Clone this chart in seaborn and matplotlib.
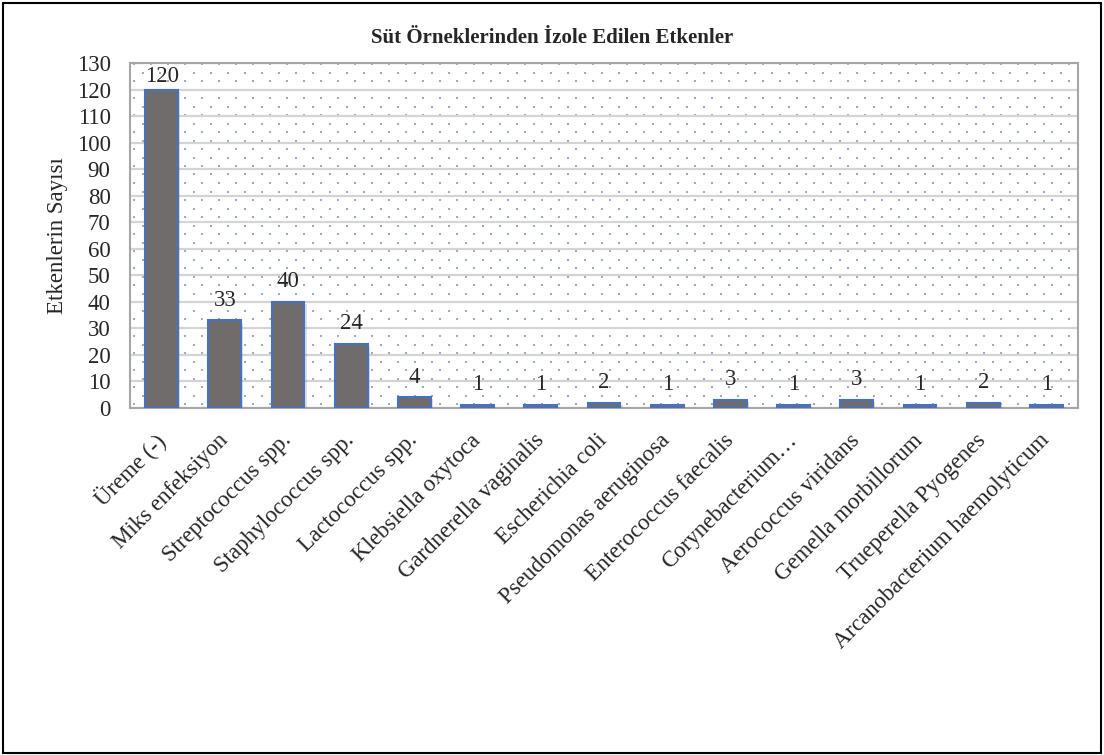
import matplotlib
matplotlib.use("Agg")
import matplotlib.pyplot as plt
import matplotlib.patheffects as pe
import seaborn as sns
import pandas as pd
import numpy as np
from matplotlib.patches import Rectangle

categories = ["Üreme (-)", "Miks enfeksiyon", "Streptococcus spp.", "Staphylococcus spp.",
              "Lactococcus spp.", "Klebsiella oxytoca", "Gardnerella vaginalis",
              "Escherichia coli", "Pseudomonas aeruginosa", "Enterococcus faecalis",
              "Corynebacterium…", "Aerococcus viridans", "Gemella morbillorum",
              "Trueperella Pyogenes", "Arcanobacterium haemolyticum"]
values = [120, 33, 40, 24, 4, 1, 1, 2, 1, 3, 1, 3, 1, 2, 1]
yticks = list(range(0, 131, 10))

sns.set_theme(style="white")
plt.rcParams['font.family'] = ['Liberation Serif', 'DejaVu Serif']

df = pd.DataFrame({"cat": categories, "val": values})

W, H = 1104, 755
L, R, T, B = 130, 1078, 63, 408
fig = plt.figure(figsize=(W/100, H/100), dpi=100)
ax = fig.add_axes([L/W, 1-B/H, (R-L)/W, (B-T)/H])

# dotted background pattern (decorative, in pixel spacing)
pw, ph = R - L, B - T
px, py = [], []
for k, yy in enumerate(np.arange(4.0, ph, 8.5)):
    off = 4.0 if k % 2 == 0 else 12.5
    for xx in np.arange(off, pw, 17.0):
        px.append(xx / pw)
        py.append(yy / ph)
ax.scatter(px, py, transform=ax.transAxes, s=1.6, marker='s', color='#9cabc8',
           linewidths=0, zorder=0.5)

sns.barplot(data=df, x="cat", y="val", ax=ax, color='#716c6c', width=0.52,
            edgecolor='#4472c4', linewidth=1.5, saturation=1, zorder=3)
for p in ax.patches:
    p.set_path_effects([pe.SimplePatchShadow(offset=(1.5, -1.5), alpha=0.25, shadow_rgbFace='#808080'),
                        pe.Normal()])

ax.set_ylim(0, 130)
ax.set_yticks(yticks)
ax.set_yticklabels([str(t) for t in yticks], fontsize=16.5)
ax.yaxis.grid(True, color='#d4d4d4', linewidth=1.6, zorder=1)
ax.set_axisbelow(True)
ax.tick_params(axis='y', length=0, pad=14)
ax.tick_params(axis='x', length=0, pad=21)
ax.set_xlabel("")
ax.set_ylabel("Etkenlerin Sayısı", fontsize=16.5, labelpad=6)
ax.set_xticks(range(len(categories)))
ax.set_xticklabels(categories, rotation=45, ha='right', va='center',
                   rotation_mode='anchor', fontsize=16.5)
ax.set_xlim(-0.5, len(categories) - 0.5)

for s in ax.spines.values():
    s.set_color('#a6a6a6')
    s.set_linewidth(1.5)

for i, v in enumerate(values):
    ax.text(i, min(v + 5.6, 122.8), str(v), ha='center', va='baseline', fontsize=16.5, zorder=5)

fig.text(0.5, 1-38/H, "Süt Örneklerinden İzole Edilen Etkenler", ha='center', va='center',
         fontsize=15, fontweight='bold')

fig.patches.append(Rectangle((0.003, 0.003), 0.994, 0.993, transform=fig.transFigure,
                             fill=False, edgecolor='black', linewidth=1.5))

fig.savefig("out.png", dpi=100)
